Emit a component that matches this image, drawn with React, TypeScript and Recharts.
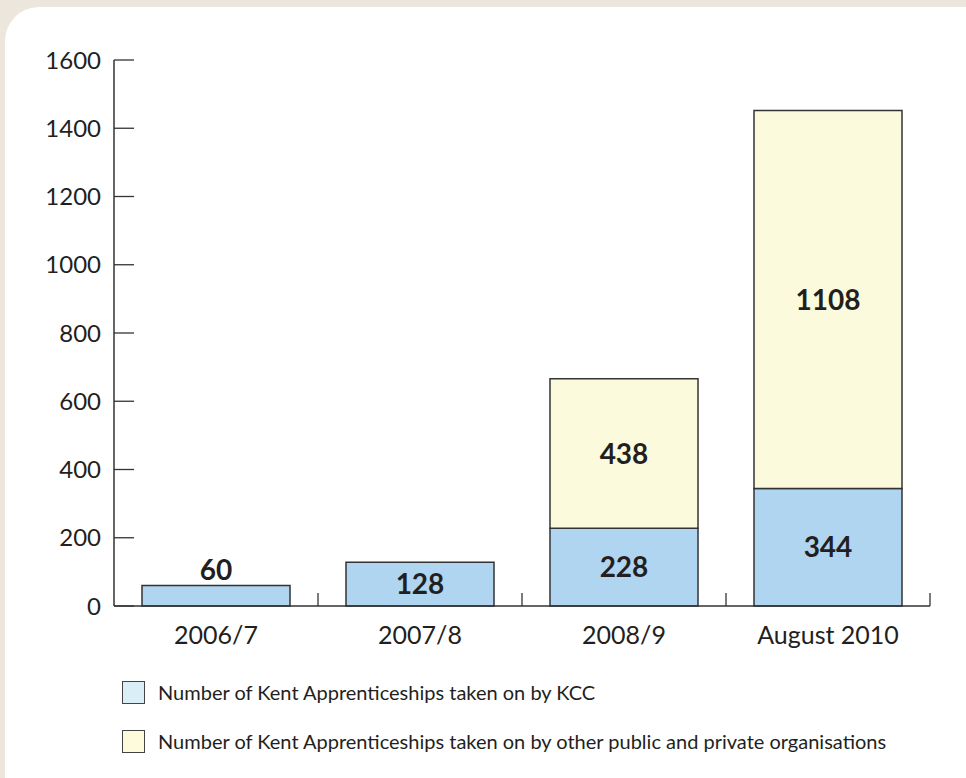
import { BarChart, Bar, XAxis, YAxis, LabelList } from "recharts";

const periods = ["2006/7", "2007/8", "2008/9", "August 2010"];
const kccValues = [60, 128, 228, 344];
const otherValues = [0, 0, 438, 1108];
const yTicks = [0, 200, 400, 600, 800, 1000, 1200, 1400, 1600];
const legendItems = [
  { label: "Number of Kent Apprenticeships taken on by KCC", color: "#d9eef6" },
  { label: "Number of Kent Apprenticeships taken on by other public and private organisations", color: "#fdfbdc" },
];

const data = periods.map((p, i) => ({ period: p, kcc: kccValues[i], other: otherValues[i] || null }));

const FONT = "Lato, 'Open Sans', sans-serif";
const INK = "#231f20";
const LABEL_GAP = 20;

// value label: centred in the segment, or above it when the bar is too short
const SegmentLabel = (props: any) => {
  const { x, y, width, height, value } = props;
  if (!value) return null;
  const above = height < 30;
  const cy = above ? y - 16 : y + height / 2;
  return (
    <text x={x + width / 2} y={cy} dy="0.36em" textAnchor="middle" fontFamily={FONT}
      fontWeight={700} fontSize={28} fill={INK}>
      {value}
    </text>
  );
};

// category label plus the small upward tick on the right edge of its band
const PeriodTick = (props: any) => {
  const { x, y, payload } = props;
  const half = payload?.offset || 102;
  const axisY = y - LABEL_GAP;
  return (
    <g>
      <line x1={x + half} x2={x + half} y1={axisY} y2={axisY - 13} stroke="#333" strokeWidth={1.3} />
      <text x={x} y={y} dy="0.71em" textAnchor="middle" fontFamily={FONT} fontSize={25} fill={INK}>
        {payload.value}
      </text>
    </g>
  );
};

export default function App() {
  return (
    <div style={{ position: "absolute", left: 0, top: 0, width: 966, height: 778, background: "#ede6dc", overflow: "hidden" }}>
      <div style={{ position: "absolute", left: 5, top: 7, width: 980, height: 790, background: "#fff", borderTopLeftRadius: 34 }} />
      <div style={{ position: "absolute", left: 0, top: 0 }}>
        <BarChart width={966} height={660} data={data} margin={{ top: 60, right: 36, bottom: 0, left: 0 }} barCategoryGap={28}>
          <XAxis dataKey="period" height={54} tickLine={false} tickSize={0} tickMargin={LABEL_GAP}
            axisLine={{ stroke: "#333", strokeWidth: 1.5 }} tick={PeriodTick} interval={0} />
          <YAxis domain={[0, 1600]} ticks={yTicks} width={114} interval={0}
            axisLine={{ stroke: "#333", strokeWidth: 1.5 }}
            tickLine={{ stroke: "#333", strokeWidth: 1.3 }} tickSize={-20} tickMargin={33}
            tick={{ fontFamily: FONT, fontSize: 24, fill: INK }} />
          <Bar dataKey="kcc" stackId="a" fill="#afd5f1" stroke="#333" strokeWidth={1.5} isAnimationActive={false}>
            <LabelList dataKey="kcc" content={SegmentLabel} />
          </Bar>
          <Bar dataKey="other" stackId="a" fill="#fcfadc" stroke="#333" strokeWidth={1.5} isAnimationActive={false}>
            <LabelList dataKey="other" content={SegmentLabel} />
          </Bar>
        </BarChart>
      </div>
      {legendItems.map((item, i) => (
        <div key={item.label} style={{ position: "absolute", left: 122, top: 680 + i * 49, display: "flex", alignItems: "center", fontFamily: FONT, fontSize: 20, color: INK, whiteSpace: "nowrap" }}>
          <span style={{ display: "inline-block", width: 21, height: 21, background: item.color, border: "1px solid #444", marginRight: 13 }} />
          {item.label}
        </div>
      ))}
    </div>
  );
}
